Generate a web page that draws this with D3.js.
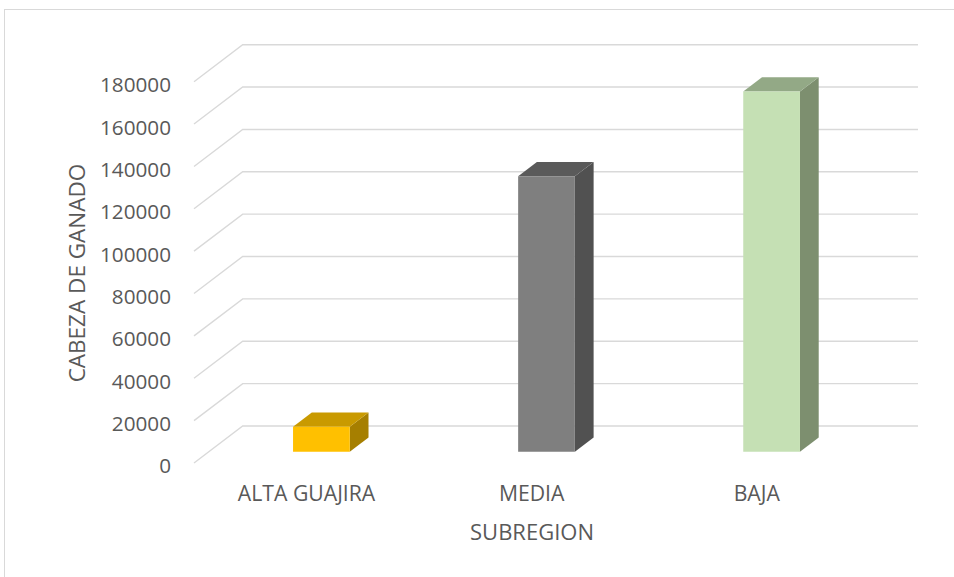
<!DOCTYPE html>
<html>
<head>
<meta charset="utf-8">
<script src="https://cdn.jsdelivr.net/npm/d3@7"></script>
<style>
  html, body { margin: 0; padding: 0; background: #fff; }
  svg { display: block; }
  text { font-family: "Open Sans", "Liberation Sans", sans-serif; fill: #595959; }
</style>
</head>
<body>
<svg id="chart" width="954" height="577"></svg>
<script>
// Cattle heads per subregion
const categories = ["ALTA GUAJIRA", "MEDIA", "BAJA"];
const values = [11800, 130000, 170000];
const yTicks = [0, 20000, 40000, 60000, 80000, 100000, 120000, 140000, 160000, 180000];
const faceColors = [
  { front: "#FFC000", top: "#C99A00", side: "#A67F00" },
  { front: "#7F7F7F", top: "#5A5A5A", side: "#515151" },
  { front: "#C5E0B4", top: "#93A986", side: "#7D8F6F" }
];
const yTitle = "CABEZA DE GANADO";
const xTitle = "SUBREGION";

const svg = d3.select("#chart");

// Outer chart frame
svg.append("rect")
  .attr("x", 4.5).attr("y", 9.5)
  .attr("width", 1000).attr("height", 700)
  .attr("fill", "#fff").attr("stroke", "#d9d9d9").attr("stroke-width", 1);

// Oblique projection: depth 0 = front of floor, depth 1 = back wall
const DX = 48.7, DY = 37;
const x = d3.scaleBand().domain(categories).range([194, 869.3]);
const y = d3.scaleLinear().domain([0, 180000]).range([463, 81.7]);
const proj = (px, v, depth) => [px + depth * DX, y(v) - depth * DY];

// Gridlines on side wall and back wall
const grid = svg.append("g");
yTicks.forEach(t => {
  const a = proj(194, t, 0), b = proj(194, t, 1), c = [918, b[1]];
  grid.append("path")
    .attr("d", d3.line()([a, b, c]))
    .attr("fill", "none").attr("stroke", "#d9d9d9").attr("stroke-width", 1.4);
});

// Value axis
const axis = svg.append("g")
  .attr("transform", "translate(194,0)")
  .call(d3.axisLeft(y).tickValues(yTicks).tickSize(0).tickPadding(23).tickFormat(d3.format("d")));
axis.select(".domain").remove();
axis.selectAll("text")
  .attr("dy", "0.48em")
  .style("font-size", "20.7px")
  .style("font-family", "'Open Sans', sans-serif")
  .attr("fill", "#595959");

// 3D columns
const d0 = 0.305, d1 = 0.69, widthFrac = 0.252;
const bars = svg.append("g");
categories.forEach((cat, i) => {
  const bw = x.bandwidth() * widthFrac;
  const xl = x(cat) + (x.bandwidth() - bw) / 2;
  const xr = xl + bw;
  const v = values[i];
  const c = faceColors[i];
  const fl = proj(xl, 0, d0), fr = proj(xr, 0, d0);
  const tl = proj(xl, v, d0), tr = proj(xr, v, d0);
  const btl = proj(xl, v, d1), btr = proj(xr, v, d1);
  const bbr = proj(xr, 0, d1);
  const line = d3.line();
  bars.append("path").attr("d", line([tr, btr, bbr, fr]) + "Z").attr("fill", c.side);
  bars.append("path").attr("d", line([tl, btl, btr, tr]) + "Z").attr("fill", c.top);
  bars.append("path").attr("d", line([fl, tl, tr, fr]) + "Z").attr("fill", c.front);
});

// Category labels
svg.append("g").selectAll("text")
  .data(categories)
  .join("text")
  .attr("x", d => x(d) + x.bandwidth() / 2)
  .attr("y", 501)
  .attr("text-anchor", "middle")
  .style("font-size", "21.2px")
  .text(d => d);

// Axis titles
svg.append("text")
  .attr("x", 532).attr("y", 540)
  .attr("text-anchor", "middle")
  .style("font-size", "22px")
  .text(xTitle);

svg.append("text")
  .attr("transform", "translate(85,273) rotate(-90)")
  .attr("text-anchor", "middle")
  .style("font-size", "22.5px")
  .text(yTitle);
</script>
</body>
</html>
